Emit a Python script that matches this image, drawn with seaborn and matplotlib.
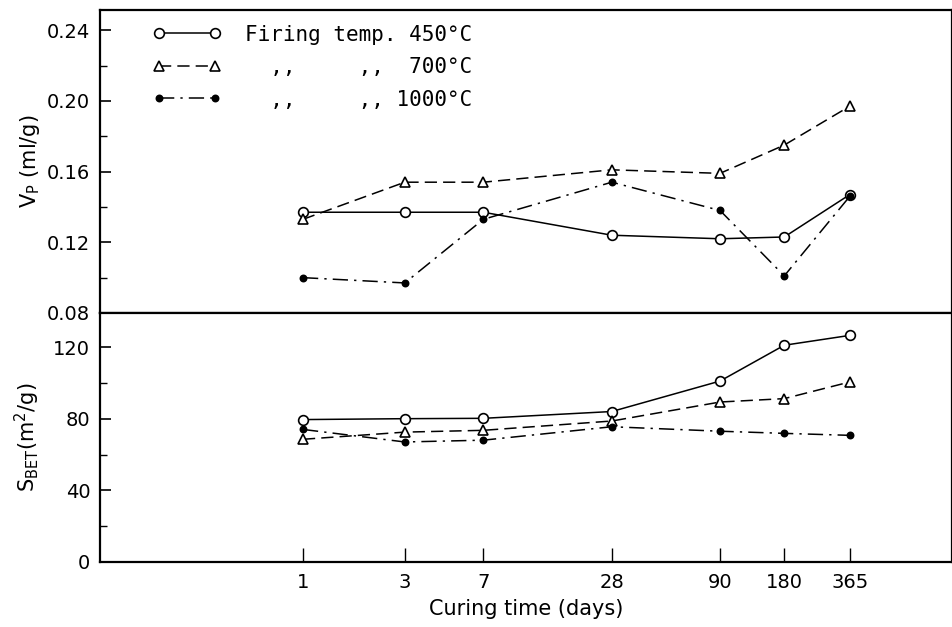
import matplotlib
matplotlib.use("Agg")
import matplotlib.pyplot as plt
import matplotlib.ticker as mticker
import seaborn as sns
import pandas as pd

# ---------------- data ----------------
days = [1, 3, 7, 28, 90, 180, 365]
day_labels = ["1", "3", "7", "28", "90", "180", "365"]

vp_450 = [0.137, 0.137, 0.137, 0.124, 0.122, 0.123, 0.147]
vp_700 = [0.133, 0.154, 0.154, 0.161, 0.159, 0.175, 0.197]
vp_1000 = [0.100, 0.097, 0.133, 0.154, 0.138, 0.101, 0.146]

sbet_450 = [79.5, 80.0, 80.2, 84.0, 101.0, 121.0, 126.5]
sbet_700 = [68.5, 72.5, 73.5, 78.7, 89.3, 91.2, 100.5]
sbet_1000 = [74.0, 67.0, 68.0, 75.5, 73.0, 71.8, 70.7]

series_labels = ["Firing temp. 450°C",
                 "  ,,     ,,  700°C",
                 "  ,,     ,, 1000°C"]

vp_ticks = [0.08, 0.12, 0.16, 0.20, 0.24]
sbet_ticks = [0, 40, 80, 120]

# ---------------- style ----------------
sns.set_style("ticks")
plt.rcParams["font.family"] = ["DejaVu Sans"]
plt.rcParams["text.color"] = "black"
plt.rcParams["axes.labelcolor"] = "black"
plt.rcParams["xtick.color"] = "black"
plt.rcParams["ytick.color"] = "black"
plt.rcParams["axes.linewidth"] = 1.6
plt.rcParams["lines.scale_dashes"] = True

styles = [
    dict(marker="o", markersize=7, markerfacecolor="white", linestyle="-"),
    dict(marker="^", markersize=7.5, markerfacecolor="white", linestyle=(0, (8, 4))),
    dict(marker="o", markersize=4.5, markerfacecolor="black", linestyle=(0, (10, 4, 1.5, 4))),
]

fig = plt.figure(figsize=(9.53, 6.27), dpi=100)
ax1 = fig.add_axes([0.105, 0.5008, 0.894, 0.4832])
ax2 = fig.add_axes([0.105, 0.1037, 0.894, 0.3971], sharex=ax1)

vp_sets = [vp_450, vp_700, vp_1000]
sb_sets = [sbet_450, sbet_700, sbet_1000]

for vals, lab, st in zip(vp_sets, series_labels, styles):
    df = pd.DataFrame({"day": days, "v": vals})
    sns.lineplot(data=df, x="day", y="v", ax=ax1, color="black", lw=1.1,
                 markeredgecolor="black", markeredgewidth=1.2, label=lab,
                 **st)

for vals, st in zip(sb_sets, styles):
    df = pd.DataFrame({"day": days, "v": vals})
    sns.lineplot(data=df, x="day", y="v", ax=ax2, color="black", lw=1.1,
                 markeredgecolor="black", markeredgewidth=1.2, legend=False,
                 **st)

for ax in (ax1, ax2):
    ax.set_xscale("log")
    ax.set_xlim(0.112, 1100)
    for sp in ax.spines.values():
        sp.set_visible(True)
        sp.set_color("black")
        sp.set_linewidth(1.6)
    ax.tick_params(axis="y", which="major", direction="in", length=8, width=1.2,
                   labelsize=14, pad=7, colors="black")
    ax.tick_params(axis="y", which="minor", direction="in", length=5, width=1.0)
    ax.set_xlabel("")
    ax.set_ylabel("")

ax1.set_ylim(0.08, 0.2514)
ax1.yaxis.set_major_locator(mticker.FixedLocator(vp_ticks))
ax1.yaxis.set_minor_locator(mticker.MultipleLocator(0.02))
ax1.yaxis.set_major_formatter(mticker.FormatStrFormatter("%.2f"))
ax1.tick_params(axis="x", which="both", bottom=False, top=False, labelbottom=False)

ax2.set_ylim(0, 139)
ax2.yaxis.set_major_locator(mticker.FixedLocator(sbet_ticks))
ax2.yaxis.set_minor_locator(mticker.MultipleLocator(20))
ax2.xaxis.set_major_locator(mticker.FixedLocator(days))
ax2.xaxis.set_major_formatter(mticker.FixedFormatter(day_labels))
ax2.xaxis.set_minor_locator(mticker.NullLocator())
ax2.tick_params(axis="x", which="major", direction="in", length=10, width=1.0,
                labelsize=14, pad=8, top=False)

ax1.set_ylabel(r"$\mathregular{V_P}$ (ml/g)", fontsize=15)
ax1.yaxis.set_label_coords(-0.068, 0.5)
ax2.set_ylabel(r"$\mathregular{S_{BET}(m^2/g)}$", fontsize=15)
ax2.yaxis.set_label_coords(-0.068, 0.5)
ax2.set_xlabel("Curing time (days)", fontsize=15, labelpad=5)

h, l = ax1.get_legend_handles_labels()
ax1.legend(h, l, loc="upper left", bbox_to_anchor=(0.062, 0.952),
           frameon=False, numpoints=2, handlelength=3.3, handletextpad=1.1,
           labelspacing=0.6, borderpad=0, borderaxespad=0,
           prop={"family": "DejaVu Sans Mono", "size": 15})

fig.savefig("out.png", dpi=100)
